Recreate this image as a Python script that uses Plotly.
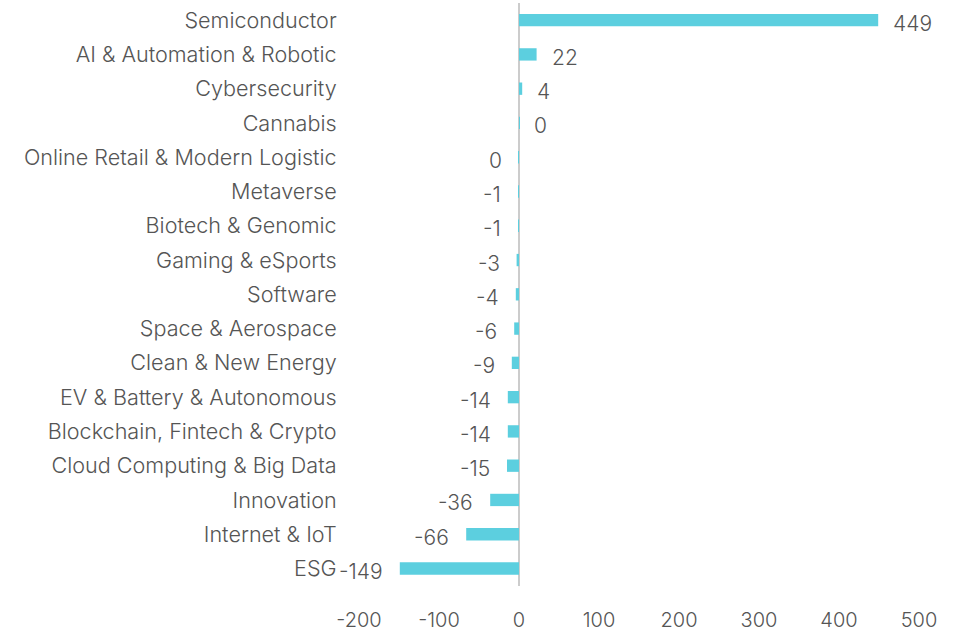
import plotly.graph_objects as go

categories = [
    "Semiconductor", "AI & Automation & Robotic", "Cybersecurity", "Cannabis",
    "Online Retail & Modern Logistic", "Metaverse", "Biotech & Genomic",
    "Gaming & eSports", "Software", "Space & Aerospace", "Clean & New Energy",
    "EV & Battery & Autonomous", "Blockchain, Fintech & Crypto",
    "Cloud Computing & Big Data", "Innovation", "Internet & IoT", "ESG",
]
values = [449, 22, 4, 0.3, -0.3, -1, -1, -3, -4, -6, -9, -14, -14, -15, -36, -66, -149]
labels = ["449", "22", "4", "0", "0", "-1", "-1", "-3", "-4", "-6", "-9", "-14", "-14", "-15", "-36", "-66", "-149"]
x_ticks = [-200, -100, 0, 100, 200, 300, 400, 500]
x_tick_labels = ["-200", "-100", "0", "100", "200", "300", "400", "500"]

FONT = "Inter"
TXT = "#555555"
BAR = "#5ccfdf"

fig = go.Figure()
fig.add_trace(go.Bar(
    y=categories, x=values, orientation="h",
    marker=dict(color=BAR, line=dict(width=0)),
    width=0.36, hoverinfo="skip",
))

for c, v, t in zip(categories, values, labels):
    pos = v >= 0
    fig.add_annotation(
        x=v, y=c, text=t, showarrow=False,
        xanchor="left" if pos else "right",
        xshift=13 if pos else -15, yshift=-3,
        font=dict(family=FONT, size=21, color=TXT, weight=300),
    )

fig.update_layout(
    width=961, height=635,
    margin=dict(l=359, r=42, t=3, b=49),
    paper_bgcolor="white", plot_bgcolor="white",
    showlegend=False,
    font=dict(family=FONT, size=21, color=TXT, weight=300),
    xaxis=dict(
        range=[-200, 500], tickvals=x_ticks, ticktext=x_tick_labels,
        showgrid=False,
        zeroline=True, zerolinecolor="#cccccc", zerolinewidth=2,
        showline=False, ticks="outside", ticklen=16, tickcolor="rgba(0,0,0,0)",
        tickfont=dict(family=FONT, size=20, color=TXT, weight=300),
        fixedrange=True, automargin=False,
    ),
    yaxis=dict(
        categoryorder="array", categoryarray=categories[::-1],
        showgrid=False, showline=False, ticks="outside", ticklen=17,
        tickcolor="rgba(0,0,0,0)",
        tickfont=dict(family=FONT, size=21.6, color=TXT, weight=300),
        fixedrange=True, automargin=False,
    ),
)

fig.write_html(
    "out.html",
    config={"displayModeBar": False},
    post_script="document.body.style.margin='0';document.body.style.overflow='hidden';",
)
